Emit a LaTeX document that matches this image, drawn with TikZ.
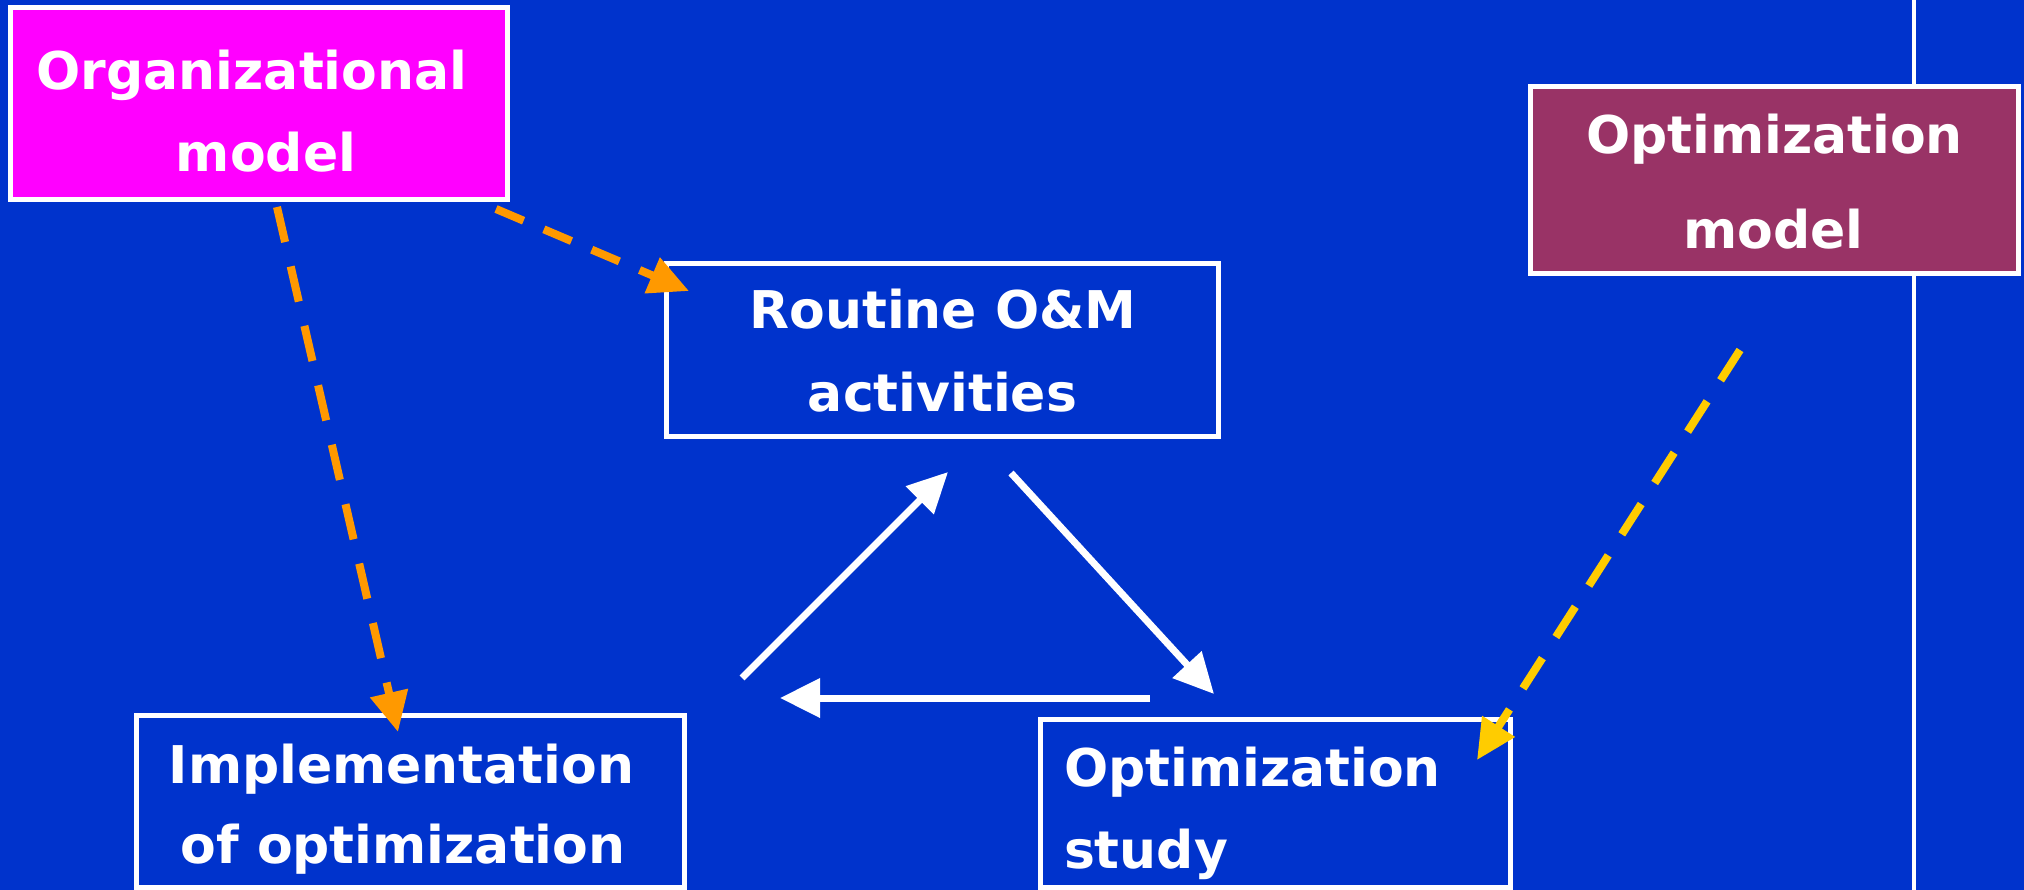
\documentclass[tikz,border=0pt]{standalone}
\usepackage{fontspec}
\setmainfont{DejaVu Sans}
\usetikzlibrary{arrows.meta}
\definecolor{bgblue}{HTML}{0033CC}
\definecolor{orgfill}{HTML}{FF00FF}
\definecolor{modelfill}{HTML}{993366}
\definecolor{dorange}{HTML}{FF9900}
\definecolor{dyellow}{HTML}{FFCC00}
\begin{document}
\begin{tikzpicture}[x=1pt,y=-1pt,
  box/.style={draw=white, line width=5pt, rectangle, inner sep=0pt, outer sep=0pt},
  lbl/.style={text=white, font=\fontsize{52}{62}\selectfont\bfseries, inner sep=0pt, outer sep=0pt, anchor=base},
  flow/.style={draw=white, line width=7pt, -{Triangle[length=40pt,width=38pt]}},
  dashflow/.style={line width=8pt, dash pattern=on 36pt off 25pt, -{Triangle[length=40pt,width=37pt]}}
]
\fill[bgblue] (0,0) rectangle (2024,890);
\useasboundingbox (0,0) rectangle (2024,890);

% divider
\coordinate (divtop) at (1914,0);
\coordinate (divbot) at (1914,890);
\draw[white, line width=4pt] (divtop) -- (divbot);

% boxes
\node[box, fill=orgfill, minimum width=497pt, minimum height=192pt] (org) at (259,103.5) {};
\node[box, minimum width=552pt, minimum height=173pt] (routine) at (942.5,350) {};
\node[box, minimum width=548pt, minimum height=172pt] (impl) at (410.5,801.5) {};
\node[box, minimum width=470pt, minimum height=168pt] (study) at (1275.5,803.5) {};
\node[box, fill=modelfill, minimum width=488pt, minimum height=187pt] (optmodel) at (1774.5,180) {};

% texts
\node[lbl] (orgA) at (252,90) {Organizational};
\node[lbl] (orgB) at (266,172) {model};
\node[lbl] (routA) at (943,329) {Routine O\&M};
\node[lbl] (routB) at (942.5,412) {activities};
\node[lbl] (implA) at (401.5,783) {Implementation};
\node[lbl] (implB) at (403,863) {of optimization};
\node[lbl, anchor=base west] (studyA) at (1064,786) {Optimization};
\node[lbl, anchor=base west] (studyB) at (1064,868) {study};
\node[lbl] (modelA) at (1774.5,154) {Optimization};
\node[lbl] (modelB) at (1773.5,249) {model};

% connector end points
\coordinate (o1s) at (277,207);
\coordinate (o1e) at (398,732);
\coordinate (o2s) at (496,209);
\coordinate (o2e) at (689,291);
\coordinate (ys) at (1740,350);
\coordinate (ye) at (1477,760);
\coordinate (w1s) at (742,678);
\coordinate (w1e) at (948,472);
\coordinate (w2s) at (1011,473);
\coordinate (w2e) at (1214,694);
\coordinate (w3s) at (1150,698);
\coordinate (w3e) at (780,698);

% dashed connectors
\draw[dashflow, draw=dorange] (o1s) -- (o1e);
\draw[dashflow, draw=dorange, dash pattern=on 30pt off 22pt] (o2s) -- (o2e);
\draw[dashflow, draw=dyellow] (ys) -- (ye);

% cycle arrows
\draw[flow] (w1s) -- (w1e);
\draw[flow] (w2s) -- (w2e);
\draw[flow] (w3s) -- (w3e);
\end{tikzpicture}
\end{document}
